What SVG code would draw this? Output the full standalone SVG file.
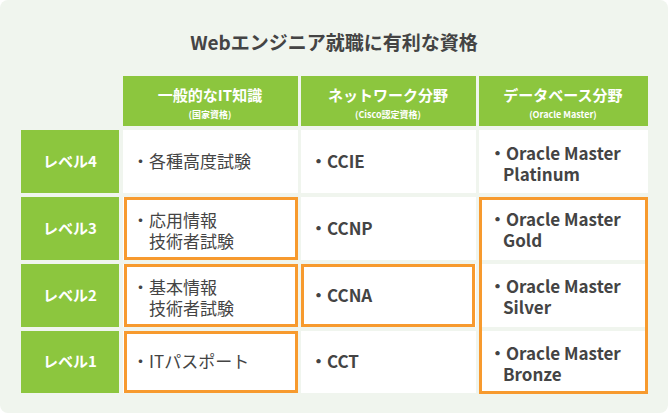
<svg xmlns="http://www.w3.org/2000/svg" width="668" height="413" viewBox="0 0 668 413">
<style>
.g{fill:#8cc63e}.w{fill:#fff}
.h{font-family:"Noto Sans CJK JP","Noto Sans",sans-serif;font-weight:bold;fill:#fff;text-anchor:middle}
.t{font-family:"Noto Sans CJK JP","Noto Sans",sans-serif;font-size:17px;fill:#444}
.b{font-weight:bold}
.o{fill:none;stroke:#f79a2e;stroke-width:3}
</style>
<rect width="668" height="413" rx="8" fill="#f0f5ee"/>
<text x="334" y="50" font-family="'Noto Sans CJK JP',sans-serif" font-size="19" font-weight="bold" fill="#444" text-anchor="middle">Webエンジニア就職に有利な資格</text>
<g id="headers">
<rect class="g" x="123" y="76" width="175" height="50"/>
<rect class="g" x="301" y="76" width="175" height="50"/>
<rect class="g" x="479" y="76" width="169" height="50"/>
<text class="h" x="210" y="101" font-size="15">一般的なIT知識</text>
<text class="h" x="210" y="118" font-size="9">(国家資格)</text>
<text class="h" x="388" y="101" font-size="15">ネットワーク分野</text>
<text class="h" x="388" y="118" font-size="9">(Cisco認定資格)</text>
<text class="h" x="563" y="101" font-size="15">データベース分野</text>
<text class="h" x="563" y="118" font-size="9">(Oracle Master)</text>
</g>
<g id="levels">
<rect class="g" x="21" y="130" width="98" height="63"/>
<rect class="g" x="21" y="197" width="98" height="63"/>
<rect class="g" x="21" y="264" width="98" height="63"/>
<rect class="g" x="21" y="331" width="98" height="62"/>
<text class="h" x="70" y="167" font-size="15">レベル4</text>
<text class="h" x="70" y="234" font-size="15">レベル3</text>
<text class="h" x="70" y="301" font-size="15">レベル2</text>
<text class="h" x="70" y="367" font-size="15">レベル1</text>
</g>
<g id="cells">
<rect class="w" x="123" y="130" width="175" height="63"/>
<rect class="w" x="301" y="130" width="175" height="63"/>
<rect class="w" x="479" y="130" width="169" height="63"/>
<rect class="w" x="123" y="197" width="175" height="63"/>
<rect class="w" x="301" y="197" width="175" height="63"/>
<rect class="w" x="479" y="197" width="169" height="63"/>
<rect class="w" x="123" y="264" width="175" height="63"/>
<rect class="w" x="301" y="264" width="175" height="63"/>
<rect class="w" x="479" y="264" width="169" height="63"/>
<rect class="w" x="123" y="331" width="175" height="62"/>
<rect class="w" x="301" y="331" width="175" height="62"/>
<rect class="w" x="479" y="331" width="169" height="62"/>
<text class="t" x="132" y="168">・各種高度試験</text>
<text class="t" x="132" y="227">・応用情報</text>
<text class="t" x="132" y="248">　技術者試験</text>
<text class="t" x="132" y="294">・基本情報</text>
<text class="t" x="132" y="315">　技術者試験</text>
<text class="t" x="132" y="368">・ITパスポート</text>
<text class="t b" x="310" y="168">・CCIE</text>
<text class="t b" x="310" y="235">・CCNP</text>
<text class="t b" x="310" y="302">・CCNA</text>
<text class="t b" x="310" y="368">・CCT</text>
<text class="t b" x="489" y="160">・Oracle Master</text>
<text class="t b" x="503" y="181">Platinum</text>
<text class="t b" x="489" y="226">・Oracle Master</text>
<text class="t b" x="503" y="247">Gold</text>
<text class="t b" x="489" y="293">・Oracle Master</text>
<text class="t b" x="503" y="314">Silver</text>
<text class="t b" x="489" y="360">・Oracle Master</text>
<text class="t b" x="503" y="381">Bronze</text>
</g>
<g id="highlights">
<rect class="o" x="125.5" y="198.5" width="171" height="60"/>
<rect class="o" x="125.5" y="265.5" width="171" height="60"/>
<rect class="o" x="125.5" y="332.5" width="171" height="59"/>
<rect class="o" x="302.5" y="265.5" width="171" height="60"/>
<rect class="o" x="480.5" y="198.5" width="166" height="194"/>
</g>
</svg>
